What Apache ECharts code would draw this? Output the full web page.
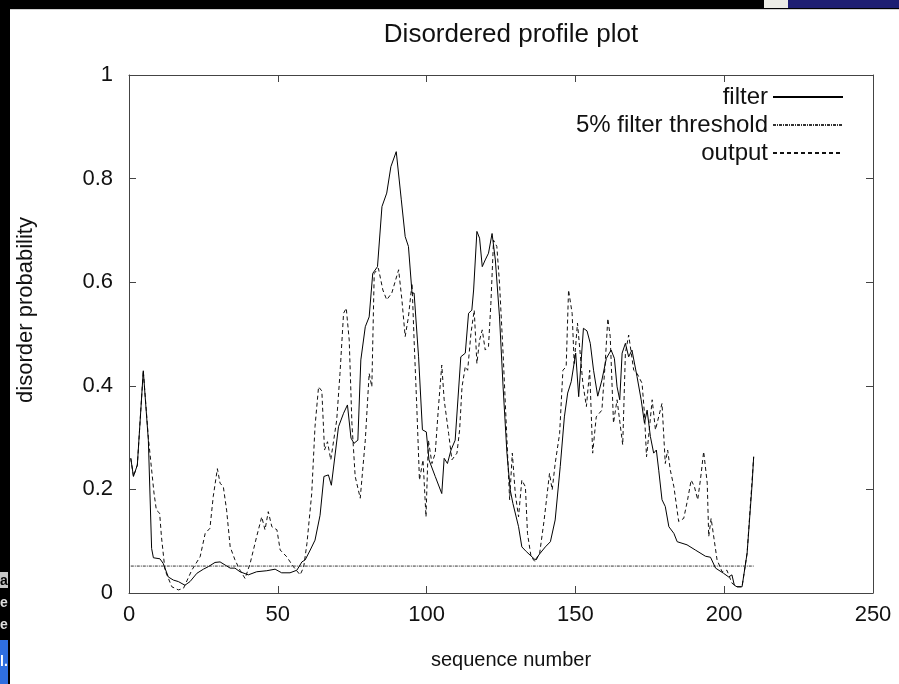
<!DOCTYPE html>
<html>
<head>
<meta charset="utf-8">
<script src="https://cdn.jsdelivr.net/npm/echarts@6/dist/echarts.min.js"></script>
<style>
html,body{margin:0;padding:0;background:#fff;}
#chart{width:899px;height:684px;}
</style>
</head>
<body>
<div id="chart"></div>
<script>
// ---- data ----
var xTicks = [0, 50, 100, 150, 200, 250];
var yTicks = [0, 0.2, 0.4, 0.6, 0.8, 1];
var seriesNames = ['filter', '5% filter threshold', 'output'];

var filterX = [0.6,1.5,2.8,4.8,6.5,7.6,8.2,10.4,11.5,13.2,14.9,16.6,18.8,20.5,22.8,25,26.7,28.9,30.6,32.3,34,35.6,37.3,40.1,42.9,46.3,49.1,51.3,54.1,56.4,58.1,59.2,60.9,62.5,64.2,65.5,67,68,70.4,72.1,73.4,74.6,75.6,76.9,77.9,79.4,80.7,81.9,83.5,85,86.6,88,89.8,91.5,92.8,93.9,95.1,95.8,97.3,98.6,99.9,100.8,102.9,105.1,105.9,107,108.2,109.6,111.5,113,114.1,115.2,115.8,116.9,117.8,118.7,119.7,120.8,122,123.1,124.5,125.7,127,128.1,129,129.6,130.9,132,133.5,134.8,136.5,138.2,139.9,141.6,143.2,144.9,146.3,147.4,148.6,150.1,151.1,152.7,153.9,155,156.1,157.5,158.9,160.4,162,163.1,164,164.9,165.7,166.8,167.9,169,170.7,172.1,173.2,174.1,175.2,176.3,177.2,178,179.1,180.2,181.4,183.1,184.2,187.5,190.3,193.7,195.4,197.1,199.8,201.5,202.6,203.4,204.3,206,207.7,209.4,209.9];
var filterY = [0.26,0.225,0.247,0.429,0.295,0.086,0.068,0.066,0.057,0.031,0.025,0.022,0.015,0.022,0.038,0.046,0.051,0.059,0.060,0.054,0.048,0.048,0.041,0.035,0.041,0.043,0.046,0.039,0.039,0.044,0.060,0.064,0.083,0.102,0.15,0.225,0.228,0.208,0.321,0.347,0.363,0.299,0.289,0.295,0.45,0.514,0.533,0.617,0.63,0.746,0.772,0.823,0.852,0.759,0.688,0.669,0.579,0.579,0.456,0.315,0.311,0.257,0.225,0.192,0.26,0.25,0.276,0.295,0.456,0.463,0.54,0.546,0.585,0.698,0.685,0.63,0.643,0.656,0.694,0.643,0.533,0.398,0.27,0.199,0.173,0.176,0.128,0.089,0.08,0.073,0.064,0.077,0.089,0.099,0.141,0.244,0.34,0.386,0.408,0.463,0.379,0.511,0.506,0.482,0.43,0.38,0.411,0.453,0.469,0.453,0.398,0.373,0.463,0.482,0.456,0.469,0.418,0.373,0.328,0.353,0.302,0.27,0.276,0.237,0.18,0.167,0.128,0.115,0.099,0.093,0.083,0.071,0.069,0.048,0.038,0.031,0.035,0.015,0.012,0.012,0.077,0.212,0.263];

var outputX = [0.6,1.5,2.8,4.8,6.5,8.4,9.2,10.3,10.9,12.1,14.4,16.6,18.3,21.1,23.9,25.6,27.2,28.3,29.7,30.6,31.7,32.8,34,35.6,37.3,39,40.7,42.9,44.6,45.7,46.8,48,49.7,50.8,53,55.2,57.5,58.7,59.8,61.4,62.5,63.7,64.8,65.7,66.7,67.8,69.8,70.9,72.1,73,74,74.9,76,77.7,79.4,80.7,81.6,82.4,83.8,85.3,86.6,88.3,90.6,91.7,92.8,93.9,95.1,95.8,96.7,97.6,98.8,99.8,100.6,101.8,102.9,104,105.1,105.9,107.4,108.5,110.2,111.1,111.9,113,113.8,114.9,116,116.9,117.8,118.7,119.7,120.8,121.6,122.5,123.6,124.5,125.7,126.8,127.9,128.8,129.8,130.9,132,133.2,133.9,135.1,136.5,138,139.5,140.4,141.3,142.2,143.2,144.7,145.8,146.9,147.7,148.9,149.6,150.7,152.5,153.7,154.8,155.8,157,158.9,160,160.9,161.7,162.8,164,165.9,166.8,167.9,169.6,170.7,172.4,173.2,173.9,174.6,175.8,176.9,179.1,180.2,181,181.9,183.1,184.7,186.4,187.7,188.9,190,191.1,192,193.1,194.3,194.8,195.6,197.6,199.3,200.9,202.6,204.3,206,207.7,209.9];
var outputY = [0.26,0.225,0.247,0.429,0.3,0.193,0.16,0.154,0.109,0.044,0.012,0.006,0.009,0.044,0.07,0.115,0.125,0.186,0.24,0.212,0.205,0.16,0.089,0.064,0.044,0.028,0.057,0.109,0.147,0.122,0.157,0.128,0.122,0.083,0.07,0.051,0.035,0.05,0.096,0.192,0.321,0.398,0.39,0.276,0.292,0.257,0.334,0.424,0.54,0.55,0.488,0.328,0.225,0.183,0.295,0.424,0.398,0.617,0.627,0.585,0.566,0.579,0.624,0.566,0.495,0.533,0.598,0.488,0.36,0.218,0.257,0.147,0.295,0.25,0.27,0.36,0.44,0.373,0.308,0.257,0.27,0.315,0.398,0.437,0.43,0.501,0.546,0.443,0.488,0.508,0.469,0.476,0.559,0.681,0.669,0.598,0.463,0.321,0.18,0.27,0.192,0.147,0.218,0.205,0.115,0.07,0.06,0.077,0.141,0.186,0.231,0.199,0.25,0.308,0.43,0.437,0.585,0.54,0.443,0.521,0.405,0.36,0.43,0.27,0.34,0.353,0.443,0.53,0.495,0.328,0.373,0.286,0.463,0.498,0.43,0.424,0.405,0.347,0.263,0.302,0.373,0.315,0.366,0.25,0.276,0.237,0.205,0.138,0.144,0.18,0.218,0.205,0.18,0.218,0.273,0.212,0.109,0.144,0.064,0.041,0.044,0.019,0.012,0.012,0.077,0.263];

var thresholdX = [0.6, 209.9];
var thresholdY = [0.052, 0.052];

function zip(xs, ys) { return xs.map(function (x, i) { return [x, ys[i]]; }); }

var FONT = "'Liberation Sans', Arial, Helvetica, sans-serif";
var chart = echarts.init(document.getElementById('chart'), null, {renderer: 'canvas'});

var frameColor = '#444';
function xAxisDef(pos, showLabel) {
  return {
    type: 'value', position: pos, min: xTicks[0], max: xTicks[xTicks.length - 1],
    interval: xTicks[1] - xTicks[0],
    axisLine: {show: true, onZero: false, lineStyle: {color: frameColor, width: 1}},
    axisTick: {show: true, inside: true, length: 7, lineStyle: {color: frameColor}},
    axisLabel: {show: showLabel, fontFamily: FONT, fontSize: 22, color: '#111', margin: 11},
    splitLine: {show: false}
  };
}
function yAxisDef(pos, showLabel) {
  return {
    type: 'value', position: pos, min: yTicks[0], max: yTicks[yTicks.length - 1],
    interval: yTicks[1] - yTicks[0],
    axisLine: {show: true, onZero: false, lineStyle: {color: frameColor, width: 1}},
    axisTick: {show: true, inside: true, length: 7, lineStyle: {color: frameColor}},
    axisLabel: {show: showLabel, fontFamily: FONT, fontSize: 22, color: '#111', margin: 16},
    splitLine: {show: false}
  };
}

var option = {
  animation: false,
  backgroundColor: '#fff',
  grid: {left: 129, right: 26, top: 75, bottom: 91, containLabel: false},
  xAxis: [xAxisDef('bottom', true), xAxisDef('top', false)],
  yAxis: [yAxisDef('left', true), yAxisDef('right', false)],
  legend: {
    orient: 'vertical', right: 50, top: 80, align: 'right',
    itemWidth: 70, itemHeight: 14, itemGap: 4,
    itemStyle: {opacity: 0},
    textStyle: {fontFamily: FONT, fontSize: 24, color: '#111'},
    data: seriesNames
  },
  series: [
    {name: seriesNames[0], type: 'line', xAxisIndex: 0, yAxisIndex: 0, showSymbol: false, symbol: 'none',
     data: zip(filterX, filterY), lineStyle: {color: '#000', width: 1, type: 'solid'}, itemStyle: {color: '#000'}, z: 3},
    {name: seriesNames[1], type: 'line', xAxisIndex: 0, yAxisIndex: 0, showSymbol: false, symbol: 'none',
     data: zip(thresholdX, thresholdY), lineStyle: {color: '#333', width: 1, type: [3, 1, 1, 1]}, itemStyle: {color: '#333'}, z: 2},
    {name: seriesNames[2], type: 'line', xAxisIndex: 0, yAxisIndex: 0, showSymbol: false, symbol: 'none',
     data: zip(outputX, outputY), lineStyle: {color: '#111', width: 1, type: [4, 3]}, itemStyle: {color: '#111'}, z: 2}
  ],
  graphic: [
    {type: 'rect', shape: {x: 0, y: 0, width: 899, height: 9}, style: {fill: '#000'}, silent: true},
    {type: 'rect', shape: {x: 764, y: 0, width: 24, height: 8}, style: {fill: '#ecece6'}, silent: true},
    {type: 'rect', shape: {x: 788, y: 0, width: 111, height: 8}, style: {fill: '#1e1e72'}, silent: true},
    {type: 'rect', shape: {x: 0, y: 9, width: 899, height: 1}, style: {fill: '#d0d0d0'}, silent: true},
    {type: 'rect', shape: {x: 0, y: 0, width: 10, height: 684}, style: {fill: '#000'}, silent: true},
    {type: 'rect', shape: {x: 0, y: 572, width: 8, height: 16}, style: {fill: '#c8c8c8'}, silent: true},
    {type: 'text', x: 0, y: 581, style: {text: 'a', font: 'bold 14px ' + FONT, fill: '#000', textVerticalAlign: 'middle'}, silent: true},
    {type: 'text', x: 0, y: 603, style: {text: 'e', font: 'bold 14px ' + FONT, fill: '#ddd', textVerticalAlign: 'middle'}, silent: true},
    {type: 'text', x: 0, y: 625, style: {text: 'e', font: 'bold 14px ' + FONT, fill: '#ddd', textVerticalAlign: 'middle'}, silent: true},
    {type: 'rect', shape: {x: 0, y: 640, width: 8, height: 44}, style: {fill: '#2f6fe0'}, silent: true},
    {type: 'text', x: 0, y: 662, style: {text: 'l.', font: 'bold 14px ' + FONT, fill: '#fff', textVerticalAlign: 'middle'}, silent: true},
    {type: 'text', x: 511, y: 35, style: {text: 'Disordered profile plot', font: '26px ' + FONT, fill: '#111', textAlign: 'center', textVerticalAlign: 'middle'}},
    {type: 'text', x: 511, y: 660, style: {text: 'sequence number', font: '20px ' + FONT, fill: '#111', textAlign: 'center', textVerticalAlign: 'middle'}},
    {type: 'text', x: 26, y: 310, rotation: Math.PI / 2, style: {text: 'disorder probability', font: '22px ' + FONT, fill: '#111', textAlign: 'center', textVerticalAlign: 'middle'}}
  ]
};
chart.setOption(option);
</script>
</body>
</html>
